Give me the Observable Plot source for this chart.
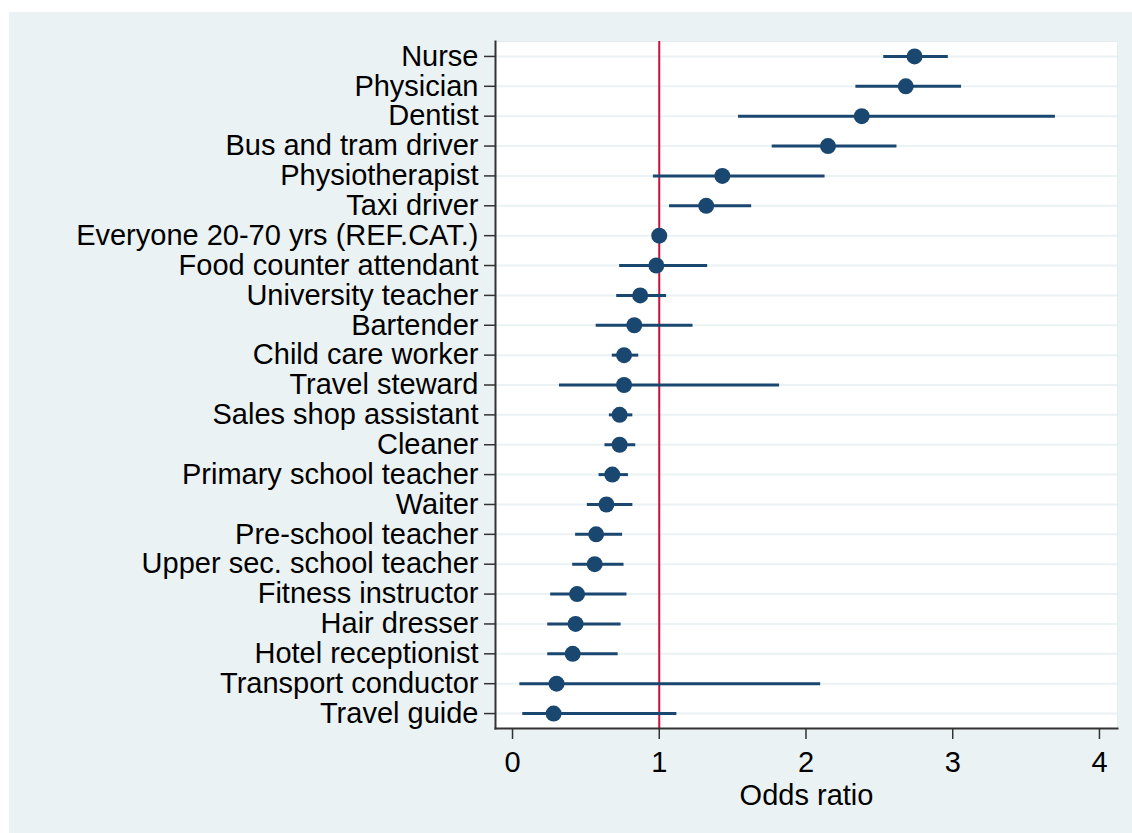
<!DOCTYPE html>
<html>
<head>
<meta charset="utf-8">
<script src="https://cdn.jsdelivr.net/npm/d3@7"></script>
<script src="https://cdn.jsdelivr.net/npm/@observablehq/plot@0.6"></script>
<style>
  html, body { margin: 0; padding: 0; background: #ffffff; }
  #chart { position: absolute; left: 9px; top: 12px; width: 1123px; height: 821px; background: #eaf2f3; }
  #chart svg { display: block; }
</style>
</head>
<body>
<div id="chart"></div>
<script>
const categories = [
  "Nurse", "Physician", "Dentist", "Bus and tram driver", "Physiotherapist",
  "Taxi driver", "Everyone 20-70 yrs (REF.CAT.)", "Food counter attendant",
  "University teacher", "Bartender", "Child care worker", "Travel steward",
  "Sales shop assistant", "Cleaner", "Primary school teacher", "Waiter",
  "Pre-school teacher", "Upper sec. school teacher", "Fitness instructor",
  "Hair dresser", "Hotel receptionist", "Transport conductor", "Travel guide"
];
const oddsRatio = [2.74, 2.68, 2.38, 2.15, 1.43, 1.32, 1.00, 0.98, 0.87, 0.83, 0.76, 0.76,
                   0.73, 0.73, 0.68, 0.64, 0.57, 0.56, 0.44, 0.43, 0.41, 0.30, 0.28];
const ciLow  = [2.53, 2.34, 1.54, 1.77, 0.96, 1.07, null, 0.73, 0.71, 0.57, 0.68, 0.32,
                0.66, 0.63, 0.59, 0.51, 0.43, 0.41, 0.26, 0.24, 0.24, 0.05, 0.07];
const ciHigh = [2.97, 3.06, 3.70, 2.62, 2.13, 1.63, null, 1.33, 1.05, 1.23, 0.86, 1.82,
                0.82, 0.84, 0.79, 0.82, 0.75, 0.76, 0.78, 0.74, 0.72, 2.10, 1.12];
const xTicks = [0, 1, 2, 3, 4];
const refValue = [1];

const rows = categories.map((c, i) => ({cat: c, or: oddsRatio[i], lo: ciLow[i], hi: ciHigh[i]}));
const ciRows = rows.filter(d => d.lo != null);

const navy = "#1a476f";
const font = "'Liberation Sans', Arial, sans-serif";

const chart = Plot.plot({
  width: 1123,
  height: 821,
  marginLeft: 486,
  marginRight: 15,
  marginTop: 29,
  marginBottom: 105,
  style: {fontFamily: font, fontSize: "29px", color: "#000", background: "transparent"},
  x: {domain: [-0.116, 4.123]},
  y: {type: "point", domain: categories, padding: 0.5, round: false},
  marks: [
    Plot.frame({fill: "#ffffff", stroke: "#e4ecee", strokeWidth: 1}),
    Plot.gridY({stroke: "#eaf2f3", strokeOpacity: 1, strokeWidth: 2}),
    Plot.ruleX(refValue, {stroke: "#c4123a", strokeWidth: 2}),
    Plot.ruleY(ciRows, {y: "cat", x1: "lo", x2: "hi", stroke: navy, strokeWidth: 3}),
    Plot.dot(rows, {x: "or", y: "cat", r: 8, fill: navy, stroke: "none"}),
    Plot.frame({anchor: "left", stroke: "#333", strokeWidth: 2}),
    Plot.frame({anchor: "bottom", stroke: "#333", strokeWidth: 2}),
    Plot.axisY({tickSize: 11, tickPadding: 6, label: null, fontSize: 29, stroke: "#333", strokeWidth: 1.5}),
    Plot.axisX({ticks: xTicks, tickFormat: d3.format("d"), tickSize: 11, tickPadding: 12, fontSize: 29,
                label: "Odds ratio", labelAnchor: "center", labelArrow: false, labelOffset: 76,
                stroke: "#333", strokeWidth: 1.5})
  ]
});
document.getElementById("chart").appendChild(chart);
</script>
</body>
</html>
